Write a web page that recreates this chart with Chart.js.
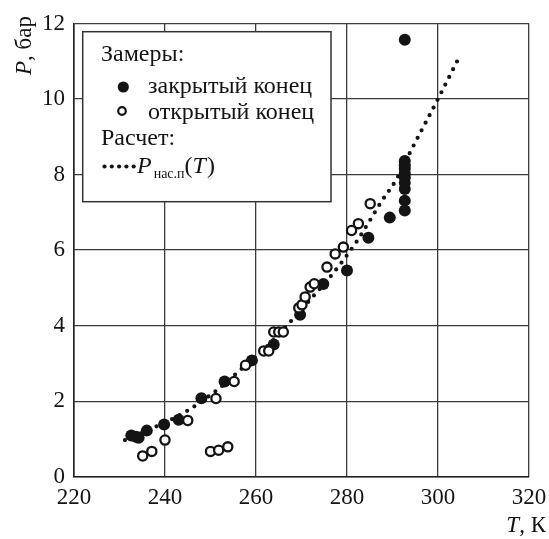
<!DOCTYPE html>
<html><head><meta charset="utf-8">
<script src="https://cdn.jsdelivr.net/npm/chart.js@4/dist/chart.umd.min.js"></script>
<style>html,body{margin:0;padding:0;background:#fff;}canvas{display:block}</style>
</head><body>
<canvas id="c" width="549" height="539"></canvas>
<script>
// ---- data ----
const closedT = [232.6, 233.6, 234.2, 236.0, 239.8, 243.0, 248.0, 253.1, 259.1, 263.9, 269.7, 274.8, 280.0, 284.7, 289.4,
                 292.7, 292.7, 292.7, 292.7, 292.7, 292.7, 292.7, 292.7, 292.7, 292.7];
const closedP = [1.09, 1.06, 1.03, 1.22, 1.38, 1.51, 2.08, 2.52, 3.08, 3.50, 4.29, 5.10, 5.46, 6.33, 6.86,
                 7.05, 7.31, 7.62, 7.78, 7.92, 8.03, 8.15, 8.25, 8.36, 11.57];
const openT = [235.1, 237.1, 240.0, 245.0, 250.0, 251.8, 253.8, 251.2, 255.2, 257.7, 261.7, 262.8, 263.9, 265.0, 266.0,
               269.4, 270.1, 270.8, 271.9, 272.8, 275.6, 277.4, 279.2, 281.0, 282.5, 285.1];
const openP = [0.55, 0.67, 0.97, 1.49, 0.67, 0.70, 0.79, 2.07, 2.52, 2.95, 3.33, 3.33, 3.83, 3.83, 3.83,
               4.47, 4.55, 4.76, 5.02, 5.11, 5.55, 5.90, 6.08, 6.52, 6.70, 7.23];
const calcT = [231.2, 237.5, 244.4, 251.8, 256.0, 262.0, 267.7, 272.0, 276.3, 281.8, 284.8, 287.6, 290.8, 294.0, 299.9, 304.2];
const calcP = [0.97, 1.30, 1.71, 2.33, 2.77, 3.40, 4.12, 4.70, 5.29, 6.17, 6.74, 7.29, 7.86, 8.62, 9.98, 11.00];
const xTicks = [220, 240, 260, 280, 300, 320];
const yTicks = [0, 2, 4, 6, 8, 10, 12];
const legendHeaders = ['Замеры:', 'Расчет:'];
const seriesLabels = ['закрытый конец', 'открытый конец'];
const xTitle = ['T', ', К'];
const yTitle = ['P', ', бар'];
const calcLabel = ['P', 'нас.п', '(', 'T', ')'];

const SERIF = '"Liberation Serif", "DejaVu Serif", serif';
const INK = '#141414';
const toPts = (xs, ys) => xs.map((x, i) => ({x: x, y: ys[i]}));

const overlay = {
  id: 'overlay',
  afterDraw(chart) {
    const ctx = chart.ctx;
    ctx.save();
    // legend box
    const bx = 82.7, by = 31.7, bw = 248.3, bh = 170;
    ctx.fillStyle = '#fff';
    ctx.fillRect(bx, by, bw, bh);
    ctx.strokeStyle = '#333';
    ctx.lineWidth = 1.5;
    ctx.strokeRect(bx, by, bw, bh);
    ctx.fillStyle = INK;
    ctx.textBaseline = 'alphabetic';
    ctx.textAlign = 'left';
    ctx.font = '24px ' + SERIF;
    ctx.fillText(legendHeaders[0], 101, 61);
    ctx.fillText(seriesLabels[0], 148, 93);
    ctx.fillText(seriesLabels[1], 148, 119);
    ctx.fillText(legendHeaders[1], 101, 145);
    // markers
    ctx.beginPath(); ctx.arc(123.3, 87, 5.6, 0, Math.PI * 2); ctx.fill();
    ctx.beginPath(); ctx.arc(122, 111, 3.8, 0, Math.PI * 2);
    ctx.lineWidth = 2.2; ctx.strokeStyle = INK; ctx.stroke();
    // dotted sample
    for (let i = 0; i < 5; i++) {
      ctx.beginPath(); ctx.arc(104.5 + i * 7.3, 166.5, 2.1, 0, Math.PI * 2); ctx.fill();
    }
    // P_nас.п(T)
    let x = 137;
    ctx.font = 'italic 24px ' + SERIF;
    ctx.fillText(calcLabel[0], x, 173); x += ctx.measureText(calcLabel[0]).width + 2;
    ctx.font = '14px ' + SERIF;
    ctx.fillText(calcLabel[1], x, 178); x += ctx.measureText(calcLabel[1]).width;
    ctx.font = '24px ' + SERIF;
    ctx.fillText(calcLabel[2], x, 173); x += ctx.measureText(calcLabel[2]).width;
    ctx.font = 'italic 24px ' + SERIF;
    ctx.fillText(calcLabel[3], x, 173); x += ctx.measureText(calcLabel[3]).width + 1;
    ctx.font = '24px ' + SERIF;
    ctx.fillText(calcLabel[4], x, 173);

    // x title
    ctx.font = '23px ' + SERIF;
    const w2 = ctx.measureText(xTitle[1]).width;
    ctx.font = 'italic 23px ' + SERIF;
    const w1 = ctx.measureText(xTitle[0]).width;
    let tx = 546 - w1 - w2;
    ctx.fillText(xTitle[0], tx, 532);
    ctx.font = '23px ' + SERIF;
    ctx.fillText(xTitle[1], tx + w1, 532);

    // y title (rotated)
    ctx.translate(31, 75);
    ctx.rotate(-Math.PI / 2);
    ctx.font = 'italic 23px ' + SERIF;
    ctx.fillText(yTitle[0], 0, 0);
    const wp = ctx.measureText(yTitle[0]).width;
    ctx.font = '23px ' + SERIF;
    ctx.fillText(yTitle[1], wp, 0);
    ctx.restore();
  }
};

new Chart(document.getElementById('c'), {
  type: 'scatter',
  data: {
    datasets: [
      {
        label: seriesLabels[1],
        data: toPts(openT, openP),
        pointRadius: 4.6,
        pointBorderWidth: 2.3,
        pointBackgroundColor: '#fff',
        pointBorderColor: INK,
        showLine: false
      },
      {
        label: seriesLabels[0],
        data: toPts(closedT, closedP),
        pointRadius: 6,
        pointBorderWidth: 0,
        pointBackgroundColor: INK,
        pointBorderColor: INK,
        showLine: false
      },
      {
        label: 'Pнас.п(T)',
        data: toPts(calcT, calcP),
        showLine: true,
        pointRadius: 0,
        borderColor: INK,
        borderWidth: 4.2,
        borderDash: [0, 8.6],
        borderCapStyle: 'round',
        cubicInterpolationMode: 'monotone',
        fill: false
      }
    ]
  },
  options: {
    responsive: false,
    animation: false,
    devicePixelRatio: 1,
    layout: {padding: {top: 23.5, right: 20, left: 0, bottom: 0}},
    plugins: {legend: {display: false}, tooltip: {enabled: false}},
    scales: {
      x: {
        type: 'linear', min: 220, max: 320,
        afterBuildTicks: s => { s.ticks = xTicks.map(v => ({value: v})); },
        afterFit: s => { s.height = 62.3; s.paddingLeft = 0; s.paddingRight = 0; },
        ticks: {color: INK, font: {family: SERIF, size: 23}, padding: 7, maxRotation: 0},
        grid: {color: '#3c3c3c', lineWidth: 1.3, drawTicks: false},
        border: {color: '#222', width: 1.6}
      },
      y: {
        type: 'linear', min: 0, max: 12,
        afterBuildTicks: s => { s.ticks = yTicks.map(v => ({value: v})); },
        afterFit: s => { s.width = 74; s.paddingTop = 0; s.paddingBottom = 0; },
        ticks: {color: INK, font: {family: SERIF, size: 23}, padding: 9},
        grid: {color: '#3c3c3c', lineWidth: 1.3, drawTicks: false},
        border: {color: '#222', width: 1.6}
      }
    }
  },
  plugins: [overlay]
});
</script>
</body></html>
